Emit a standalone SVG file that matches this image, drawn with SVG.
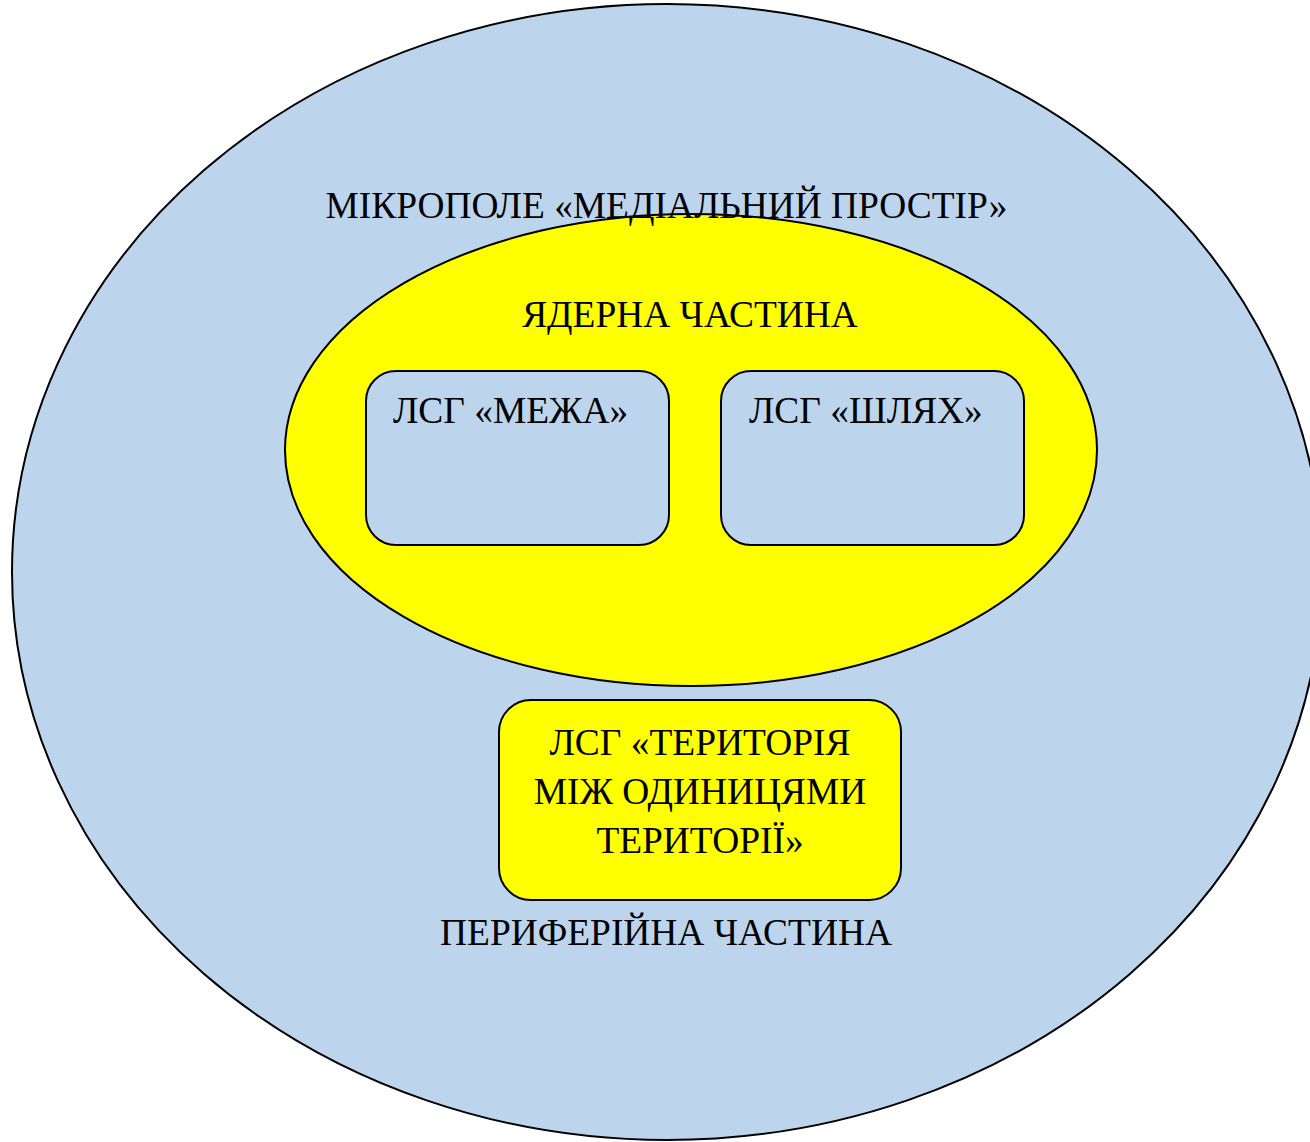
<svg xmlns="http://www.w3.org/2000/svg" width="1310" height="1142" viewBox="0 0 1310 1142">
  <style>
    .shape { stroke: #000; stroke-width: 2; }
    .blue { fill: #bdd5ec; }
    .yellow { fill: #ffff00; }
    .label { font-family: "Liberation Serif", "Times New Roman", serif; font-size: 37.4px; fill: #000; }
    .mid { text-anchor: middle; }
  </style>
  <rect width="1310" height="1142" fill="#fff"/>

  <!-- outer microfield -->
  <g id="microfield">
    <ellipse class="shape blue" cx="667" cy="572" rx="655" ry="568"/>
  </g>

  <!-- core part -->
  <g id="core">
    <ellipse class="shape yellow" cx="691" cy="450" rx="406" ry="236"/>
    <text class="label mid" x="690" y="327">ЯДЕРНА ЧАСТИНА</text>
  </g>

  <g id="lsg-mezha">
    <rect class="shape blue" x="366" y="371" width="303" height="174" rx="30" ry="30"/>
    <text class="label" x="393" y="423">ЛСГ «МЕЖА»</text>
  </g>

  <g id="lsg-shliakh">
    <rect class="shape blue" x="721" y="371" width="303" height="174" rx="30" ry="30"/>
    <text class="label" x="749" y="423">ЛСГ «ШЛЯХ»</text>
  </g>

  <!-- peripheral part -->
  <g id="lsg-terytoriia">
    <rect class="shape yellow" x="499" y="700" width="402" height="200" rx="32" ry="32"/>
    <text class="label mid" x="700" y="755">ЛСГ «ТЕРИТОРІЯ</text>
    <text class="label mid" x="700" y="804">МІЖ ОДИНИЦЯМИ</text>
    <text class="label mid" x="700" y="853">ТЕРИТОРІЇ»</text>
  </g>

  <g id="titles">
    <text class="label mid" x="666.5" y="218">МІКРОПОЛЕ «МЕДІАЛЬНИЙ ПРОСТІР»</text>
    <text class="label mid" x="666" y="945">ПЕРИФЕРІЙНА ЧАСТИНА</text>
  </g>

  <g id="connectors"></g>
</svg>
